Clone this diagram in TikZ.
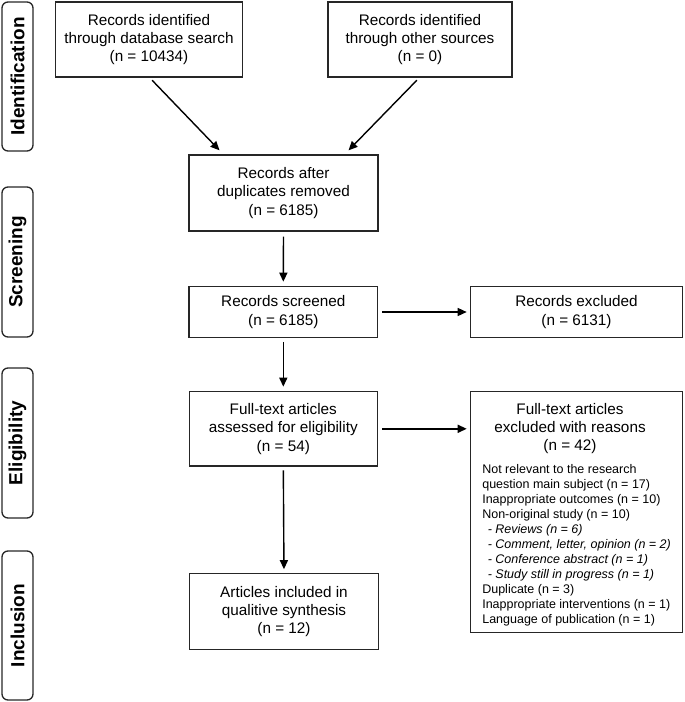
\documentclass[tikz,border=0pt]{standalone}
\usepackage{fontspec}
\setmainfont{Liberation Sans}
\usetikzlibrary{arrows.meta,calc}
\begin{document}
\begin{tikzpicture}[x=1pt,y=-1pt,
 box/.style={draw=black!85,line width=1.3pt,inner sep=0pt,outer sep=0pt,align=center,
   font=\fontsize{15.3}{18.4}\selectfont},
 txt/.style={inner sep=0pt,outer sep=0pt,align=center,font=\fontsize{15.3}{18.4}\selectfont},
 side/.style={draw=black!85,line width=1.3pt,rounded corners=6pt,rotate=90,inner sep=0pt,
   outer sep=0pt,minimum height=31pt,font=\fontsize{19}{22}\selectfont\bfseries},
 arr/.style={-{Triangle[length=9pt,width=8pt]},line width=1.4pt,draw=black}]
\useasboundingbox (0,0) rectangle (685,702);

% phase labels
\node[side,minimum width=149pt] (sid) at (17.5,76.5) {Identification};
\node[side,minimum width=150pt] (sscr) at (17.5,262) {Screening};
\node[side,minimum width=150pt] (selig) at (17.5,443) {Eligibility};
\node[side,minimum width=149pt] (sinc) at (17.5,625.5) {Inclusion};

% boxes
\node[box,minimum width=187pt,minimum height=75pt] (b1) at (149,39.5)
  {Records identified\\through database search\\(n = 10434)};
\node[box,minimum width=184pt,minimum height=75pt] (b2) at (420,39.5)
  {Records identified\\through other sources\\(n = 0)};
\node[box,minimum width=189pt,minimum height=76pt] (b3) at (283.5,193)
  {Records after\\duplicates removed\\(n = 6185)};
\node[box,minimum width=188.5pt,minimum height=50.6pt] (b4) at (283.3,312)
  {Records screened\\(n = 6185)};
\node[box,minimum width=212pt,minimum height=50.6pt] (b5) at (576.5,312)
  {Records excluded\\(n = 6131)};
\node[box,minimum width=188pt,minimum height=74.3pt] (b6) at (283.3,428.8)
  {Full-text articles\\assessed for eligibility\\(n = 54)};
\node[box,minimum width=212pt,minimum height=240.6pt] (b7) at (576.5,512) {};
\node[txt] (b7h) at (570,428.6)
  {Full-text articles\\excluded with reasons\\(n = 42)};
\node[inner sep=0pt,outer sep=0pt,anchor=north west,align=left,
  font=\fontsize{12.5}{14.97}\selectfont] (b7l) at (482.3,463.5)
  {\rule{0pt}{10pt}Not relevant to the research\\
   question main subject (n = 17)\\
   Inappropriate outcomes (n = 10)\\
   Non-original study (n = 10)\\
   \hspace*{5.5pt}\textit{- Reviews (n = 6)}\\
   \hspace*{5.5pt}\textit{- Comment, letter, opinion (n = 2)}\\
   \hspace*{5.5pt}\textit{- Conference abstract (n = 1)}\\
   \hspace*{5.5pt}\textit{- Study still in progress (n = 1)}\\
   Duplicate (n = 3)\\
   Inappropriate interventions (n = 1)\\
   Language of publication (n = 1)};
\node[box,minimum width=188.7pt,minimum height=75.6pt] (b8) at (284,611.5)
  {Articles included in\\qualitive synthesis\\(n = 12)};

% connectors
\coordinate (t1) at ($(b3.north west)+(35,0)$);
\coordinate (t2) at ($(b3.north east)+(-34,0)$);
\draw[arr,shorten <=4.5pt,shorten >=6.5pt] (b1.south) -- (t1);
\draw[arr,shorten <=4.5pt,shorten >=6.5pt] (b2.south) -- (t2);
\draw[arr,shorten <=5.5pt,shorten >=5pt] (b3.south) -- (b4.north);
\draw[arr,shorten <=4.5pt,shorten >=5pt] (b4.south) -- (b6.north);
\draw[arr,shorten <=4.5pt,shorten >=4.5pt] (b6.south) -- (b8.north);
\draw[arr,shorten <=4.8pt,shorten >=3.8pt] (b4.east) -- (b5.west);
\draw[arr,shorten <=4.8pt,shorten >=3.8pt] (b6.east) -- (b6.east -| b7.west);
\end{tikzpicture}
\end{document}
